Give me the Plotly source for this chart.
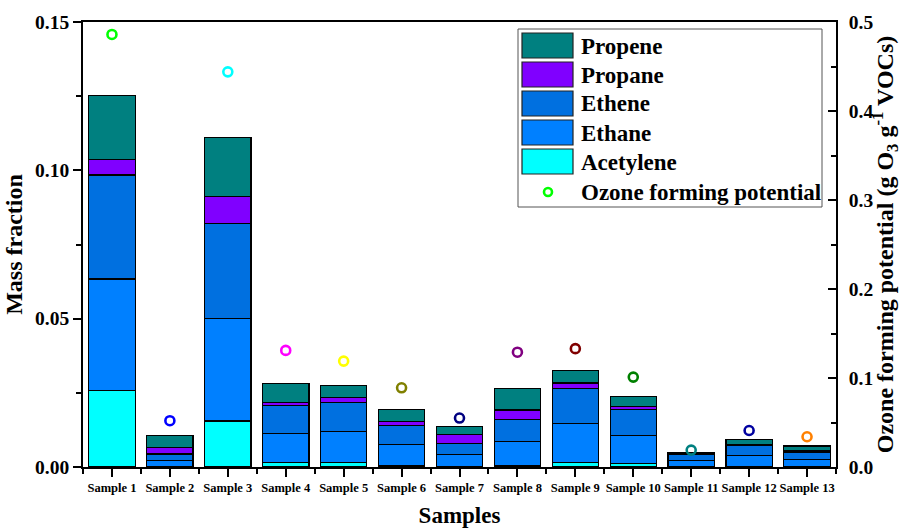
import plotly.graph_objects as go

samples = [f"Sample {i}" for i in range(1, 14)]
acetylene = [0.0257, 0.0003, 0.0155, 0.0015, 0.0015, 0.0005, 0.0002, 0.0006, 0.0016, 0.0012, 0.0001, 0.0002, 0.0001]
ethane    = [0.0377, 0.0020, 0.0346, 0.0099, 0.0105, 0.0071, 0.0041, 0.0081, 0.0130, 0.0095, 0.0022, 0.0037, 0.0025]
ethene    = [0.0350, 0.0021, 0.0320, 0.0092, 0.0098, 0.0065, 0.0037, 0.0074, 0.0119, 0.0087, 0.0018, 0.0033, 0.0022]
propane   = [0.0053, 0.0022, 0.0091, 0.0012, 0.0015, 0.0013, 0.0029, 0.0031, 0.0018, 0.0011, 0.0003, 0.0005, 0.0006]
propene   = [0.0215, 0.0039, 0.0198, 0.0064, 0.0043, 0.0041, 0.0027, 0.0073, 0.0042, 0.0034, 0.0005, 0.0016, 0.0017]
ofp       = [0.486, 0.052, 0.444, 0.131, 0.119, 0.089, 0.055, 0.129, 0.133, 0.101, 0.019, 0.041, 0.034]
ofp_colors = ["#00FF00", "#0000FF", "#00FFFF", "#FF00FF", "#FFFF00", "#808000", "#000080",
              "#800080", "#800000", "#008000", "#008080", "#0000A0", "#FF8000"]

series = [("Acetylene", acetylene, "#00FFFF"),
          ("Ethane", ethane, "#0080FF"),
          ("Ethene", ethene, "#0070E0"),
          ("Propane", propane, "#8000FF"),
          ("Propene", propene, "#008080")]

FONT = "Liberation Serif"
x = list(range(len(samples)))

fig = go.Figure()
for name, vals, col in series:
    fig.add_trace(go.Bar(x=x, y=vals, name=name, width=0.8,
                         marker=dict(color=col, line=dict(color="black", width=1.2)),
                         showlegend=False))

fig.add_trace(go.Scatter(x=x, y=ofp, yaxis="y2", mode="markers", name="Ozone forming potential",
                         marker=dict(symbol="circle-open", size=9, color=ofp_colors,
                                     line=dict(width=2.6, color=ofp_colors)),
                         showlegend=False))

W, H = 902, 528
L, R, T, B = 83, 836, 22, 467
def px(xp): return (xp - L) / (R - L)
def py(yp): return (B - yp) / (B - T)

shapes = []
annotations = []
# legend box
shapes.append(dict(type="rect", xref="paper", yref="paper", x0=px(518), x1=px(822), y0=py(207), y1=py(29),
                   line=dict(color="#555555", width=1), fillcolor="white", layer="above"))
legend_items = list(reversed(series))
for i, (name, vals, col) in enumerate(legend_items):
    y0 = 33 + i * 29
    shapes.append(dict(type="rect", xref="paper", yref="paper", x0=px(522), x1=px(573),
                       y0=py(y0 + 25), y1=py(y0), fillcolor=col,
                       line=dict(color="#222222", width=1.2), layer="above"))
    annotations.append(dict(xref="paper", yref="paper", x=px(579), y=py(y0 + 13), text=name,
                            showarrow=False, xanchor="left", yanchor="middle",
                            font=dict(family=FONT, size=23, color="black", weight="bold")))
# ozone legend marker
shapes.append(dict(type="circle", xref="paper", yref="paper", x0=px(544), x1=px(552),
                   y0=py(196), y1=py(188), line=dict(color="#00FF00", width=2.6), layer="above"))
annotations.append(dict(xref="paper", yref="paper", x=px(579), y=py(192), text="Ozone forming potential",
                        showarrow=False, xanchor="left", yanchor="middle",
                        font=dict(family=FONT, size=23, color="black", weight="bold")))

fig.update_layout(
    width=W, height=H,
    margin=dict(l=L, r=W - R, t=T, b=H - B, pad=0, autoexpand=False),
    barmode="stack", bargap=0.2,
    plot_bgcolor="white", paper_bgcolor="white",
    font=dict(family=FONT, color="black", weight="bold"),
    showlegend=False,
    shapes=shapes, annotations=annotations,
    xaxis=dict(range=[-0.5, 12.5], tickmode="array", tickvals=x, ticktext=samples,
               tickfont=dict(family=FONT, size=12.5, weight="bold"), automargin=False,
               ticks="outside", ticklen=8, tickwidth=1.5, tickcolor="black",
               minor=dict(tickmode="linear", tick0=0.5, dtick=1, ticks="outside", ticklen=5, tickwidth=1.5, tickcolor="black"),
               showline=True, linecolor="black", linewidth=1.8, mirror=True,
               showgrid=False, zeroline=False,
               title=dict(text="Samples", font=dict(family=FONT, size=23, weight="bold"), standoff=14)),
    yaxis=dict(range=[0, 0.15], tickmode="array", tickvals=[0, 0.05, 0.10, 0.15], tickformat=".2f",
               tickfont=dict(family=FONT, size=19.5, weight="bold"), automargin=False,
               ticks="outside", ticklen=8, tickwidth=1.5, tickcolor="black",
               minor=dict(tickmode="linear", tick0=0, dtick=0.025, ticks="outside", ticklen=5, tickwidth=1.5, tickcolor="black"),
               showline=True, linecolor="black", linewidth=1.8,
               showgrid=False, zeroline=False,
               title=dict(text="Mass fraction", font=dict(family=FONT, size=24, weight="bold"), standoff=6)),
    yaxis2=dict(overlaying="y", side="right", range=[0, 0.5], tickmode="linear", tick0=0, dtick=0.1,
                tickformat=".1f", tickfont=dict(family=FONT, size=19.5, weight="bold"), automargin=False,
                ticks="inside", ticklen=8, tickwidth=1.5, tickcolor="black", ticklabelstandoff=7,
                minor=dict(tickmode="linear", tick0=0, dtick=0.05, ticks="inside", ticklen=5, tickwidth=1.5, tickcolor="black"),
                showline=True, linecolor="black", linewidth=1.8,
                showgrid=False, zeroline=False,
                title=dict(text="Ozone forming potential (g O<sub>3</sub> g<sup>-1</sup> VOCs)",
                           font=dict(family=FONT, size=24, weight="bold"), standoff=6)),
)

fig.write_html("out.html")
